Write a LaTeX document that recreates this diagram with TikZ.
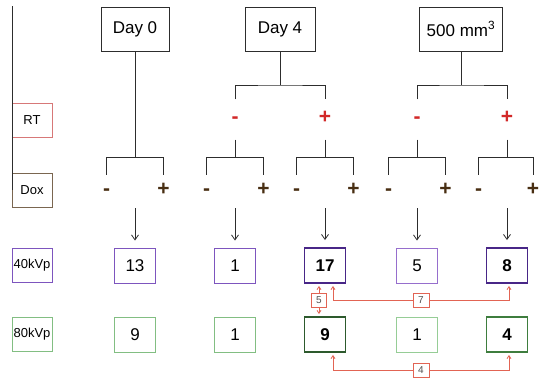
\documentclass[tikz,border=0pt]{standalone}
\usepackage{fontspec}
\setmainfont{Liberation Sans}
\usetikzlibrary{arrows.meta,calc}
\definecolor{linec}{RGB}{45,45,45}
\definecolor{rtc}{RGB}{215,120,120}
\definecolor{doxc}{RGB}{122,102,80}
\definecolor{puc}{RGB}{125,85,190}
\definecolor{pulc}{RGB}{150,110,205}
\definecolor{pudc}{RGB}{72,38,135}
\definecolor{grc}{RGB}{130,190,130}
\definecolor{grlc}{RGB}{150,205,150}
\definecolor{grdc}{RGB}{45,90,45}
\definecolor{grtc}{RGB}{62,125,62}
\definecolor{rsign}{RGB}{210,40,40}
\definecolor{dsign}{RGB}{72,46,18}
\definecolor{rc}{RGB}{226,100,84}
\definecolor{labtext}{RGB}{80,80,80}
\begin{document}
\begin{tikzpicture}[x=1pt,y=-1pt,
  ln/.style={draw=linec, line width=0.9pt},
  hdr/.style={draw=linec, line width=0.9pt, minimum height=44pt, inner sep=0pt, font=\fontsize{17}{20}\selectfont},
  side/.style={draw=#1, line width=1pt, minimum width=40pt, minimum height=34pt, inner sep=0pt, font=\fontsize{13}{15}\selectfont},
  rsg/.style={text=rsign, font=\fontsize{21}{23}\selectfont\bfseries, text height=0.7em, text depth=0pt, inner sep=0pt, minimum height=40pt},
  dsg/.style={text=dsign, font=\fontsize{21}{23}\selectfont\bfseries, text height=0.7em, text depth=0pt, inner sep=0pt, minimum height=34pt},
  num/.style={draw=#1, line width=0.9pt, fill=white, minimum width=41pt, minimum height=35pt, inner sep=0pt, font=\fontsize{17}{19}\selectfont},
  numT/.style={draw=#1, line width=1.9pt, fill=white, minimum width=41pt, minimum height=35pt, inner sep=0pt, font=\fontsize{17}{19}\selectfont\bfseries},
  arr/.style={draw=linec, line width=0.8pt, -{Straight Barb[length=5pt,width=7pt]}, shorten >=7pt},
  rca/.style={draw=rc, line width=0.8pt, {Straight Barb[length=3pt,width=4pt]}-{Straight Barb[length=3pt,width=4pt]}, shorten <=2pt, shorten >=2pt},
  lbl/.style={draw=rc, line width=0.8pt, fill=white, text=labtext, font=\fontsize{10}{12}\selectfont, inner sep=0pt, minimum width=16pt, minimum height=14pt}
]
\useasboundingbox (0,0) rectangle (540,378);

% header boxes
\node[hdr, minimum width=68pt] (day0) at (135,29) {Day 0};
\node[hdr, minimum width=70pt] (day4) at (280,29) {Day 4};
\node[hdr, minimum width=83pt] (mm) at (461,29) {500 mm\textsuperscript{3}};

% side labels
\node[side=rtc] (rt) at (32,120) {RT};
\node[side=doxc] (dox) at (32,190.5) {Dox};
\node[side=puc] (kv40) at (32,265.5) {40kVp};
\node[side=grc] (kv80) at (32,334.5) {80kVp};
\coordinate (lt) at (12,6);
\coordinate (lb) at (12,190);
\draw[ln] (lt) -- (lb);

% RT signs
\node[rsg] (rtm1) at (235,119.5) {-};
\node[rsg] (rtp1) at (325,119.5) {+};
\node[rsg] (rtm2) at (417,119.5) {-};
\node[rsg] (rtp2) at (507,119.5) {+};

% Dox signs
\node[dsg] (dm0) at (106.5,192) {-};
\node[dsg] (dp0) at (163.5,192) {+};
\node[dsg] (dm1) at (206.5,192) {-};
\node[dsg] (dp1) at (263.5,192) {+};
\node[dsg] (dm2) at (296.5,192) {-};
\node[dsg] (dp2) at (353.5,192) {+};
\node[dsg] (dm3) at (388.5,192) {-};
\node[dsg] (dp3) at (445.5,192) {+};
\node[dsg] (dm4) at (478.5,192) {-};
\node[dsg] (dp4) at (533,192) {+};

% brackets
\coordinate (j0) at (135,157.5);
\draw[ln] (day0.south) -- (j0);
\draw[ln] (dm0.north) |- (j0) -| (dp0.north);

\coordinate (j1) at (280,85);
\draw[ln] (day4.south) -- (j1);
\draw[ln] (rtm1.north) |- (j1) -| (rtp1.north);
\coordinate (j2) at (461,85);
\draw[ln] (mm.south) -- (j2);
\draw[ln] (rtm2.north) |- (j2) -| (rtp2.north);

\coordinate (k1) at (235,157.5);
\draw[ln] (rtm1.south) -- (k1);
\draw[ln] (dm1.north) |- (k1) -| (dp1.north);
\coordinate (k2) at (325,157.5);
\draw[ln] (rtp1.south) -- (k2);
\draw[ln] (dm2.north) |- (k2) -| (dp2.north);
\coordinate (k3) at (417,157.5);
\draw[ln] (rtm2.south) -- (k3);
\draw[ln] (dm3.north) |- (k3) -| (dp3.north);
\coordinate (k4) at (507,157.5);
\draw[ln] (rtp2.south) -- (k4);
\draw[ln] (dm4.north) |- (k4) -| (dp4.north);

% number boxes
\node[num=puc] (n13) at (135,265.5) {13};
\node[num=puc] (n1a) at (235,265.5) {1};
\node[numT=pudc] (n17) at (325,265.5) {17};
\node[num=pulc] (n5) at (417,265.5) {5};
\node[numT=pudc] (n8) at (507,265.5) {8};
\node[num=grc] (n9a) at (135,334.5) {9};
\node[num=grc] (n1b) at (235,334.5) {1};
\node[numT=grdc] (n9) at (325,334.5) {9};
\node[num=grlc] (n1c) at (417,334.5) {1};
\node[numT=grtc] (n4) at (507,334.5) {4};

% arrows
\coordinate (a0) at (135,208);
\coordinate (a1) at (235,208);
\coordinate (a2) at (325,208);
\coordinate (a3) at (417,208);
\coordinate (a4) at (507,208);
\draw[arr] (a0) -- (n13.north);
\draw[arr] (a1) -- (n1a.north);
\draw[arr] (a2) -- (n17.north);
\draw[arr] (a3) -- (n5.north);
\draw[arr] (a4) -- (n8.north);

% red comparisons
\draw[rca] ([xshift=-6pt]n17.south) -- node[lbl, minimum width=15pt] {5} ([xshift=-6pt]n9.north);
\draw[rca] ([xshift=8pt]n17.south) -- ++(0,16) -- node[lbl] {7} ([xshift=2pt,yshift=-16pt]n8.south) -- ([xshift=2pt]n8.south);
\draw[rca] ([xshift=8pt]n9.south) -- ++(0,17) -- node[lbl] {4} ([xshift=2pt,yshift=-17pt]n4.south) -- ([xshift=2pt]n4.south);
\end{tikzpicture}
\end{document}
